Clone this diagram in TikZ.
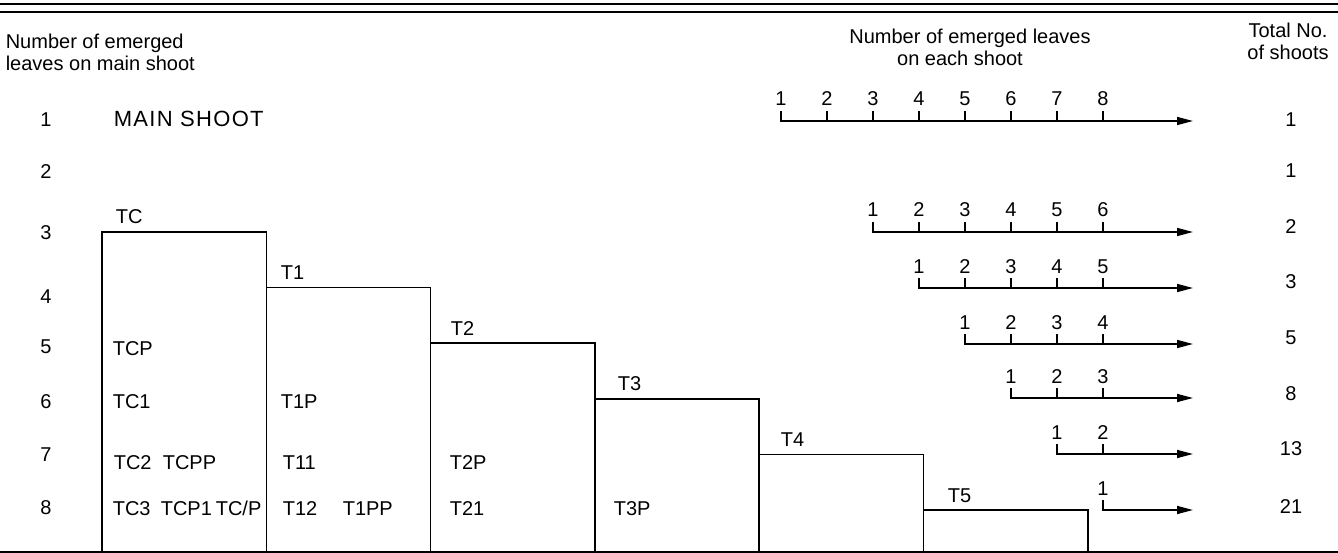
\documentclass[tikz,border=0pt]{standalone}
\usepackage{fontspec}
\setmainfont{Liberation Sans}
\usetikzlibrary{arrows.meta}

\begin{document}
\begin{tikzpicture}[x=1pt,y=-1pt,line width=1.6pt,
   every node/.style={inner sep=0pt,font=\fontsize{20}{24}\selectfont},
   lab/.style={anchor=base west},
   num/.style={anchor=center},
   leafaxis/.style={-{Triangle[length=16pt,width=8pt]}}]
\useasboundingbox (0,0) rectangle (1338,553);
\draw (0,4) -- (1338,4) (0,12) -- (1338,12) (0,552) -- (1338,552);
\node[lab] (headA) at (5,49) {Number of emerged};
\node[lab] (headB) at (5,71) {leaves on main shoot};
\node[anchor=base] (headC) at (970,44) {Number of emerged leaves};
\node[anchor=base] (headD) at (960,66) {on each shoot};
\node[anchor=base] (headE) at (1288,38) {Total No.};
\node[anchor=base] (headF) at (1288,60) {of shoots};
\foreach \r/\y/\t/\ty in {1/120/1/120,2/172/1/171,3/233/2/227,4/297/3/282,
    5/347/5/338,6/402/8/394,7/455/13/449,8/508/21/507} {
  \node[num] (row\r) at (46,\y) {\r};
  \node[num] (tot\r) at (1291,\ty) {\t};
}
\node[lab,font=\fontsize{22}{26}\selectfont\addfontfeatures{LetterSpace=6}] (main) at (113,127) {MAIN SHOOT};
\foreach \i/\s/\lx in {0/TC/115,1/T1/280,2/T2/450,3/T3/617,4/T4/780,5/T5/947} {
  \pgfmathsetmacro\xa{102+164.3*\i}
  \pgfmathsetmacro\xb{\xa+164.3}
  \pgfmathsetmacro\yt{232+55.6*\i}
  \draw (\xa,552) |- (\xb,\yt) -- (\xb,552);
  \node[lab] (step\s) at (\lx,\yt-8) {\s};
}
\foreach \s/\x/\y in {TCP/112/355,TC1/112/408,T1P/280/408,TC2/113/469,
    TCPP/162/469,T11/282/469,T2P/449/469,TC3/112/515,TCP1/160/515,
    T12/282/515,T1PP/342/515,T21/449/515,T3P/613/515}
  \node[lab] (\s) at (\x,\y) {\s};
\node[lab] (TCslashP) at (215,515) {TC/P};
\foreach \r/\y in {1/121,3/232,4/288,5/344,6/398,7/454,8/510} {
  \pgfmathsetmacro\xs{781+46*(\r-1)}
  \coordinate (ax\r) at (\xs,\y-10);
  \coordinate (ae\r) at (1193,\y);
  \draw[leafaxis] (ax\r) |- (ae\r);
  \foreach \c in {\r,...,8} {
    \pgfmathtruncatemacro\j{\c-\r+1}
    \draw (781+46*\c-46,\y-10) -- ++(0,10);
    \node[anchor=base] (tick\r-\j) at (781+46*\c-46,\y-15) {\j};
  }
}
\end{tikzpicture}
\end{document}
